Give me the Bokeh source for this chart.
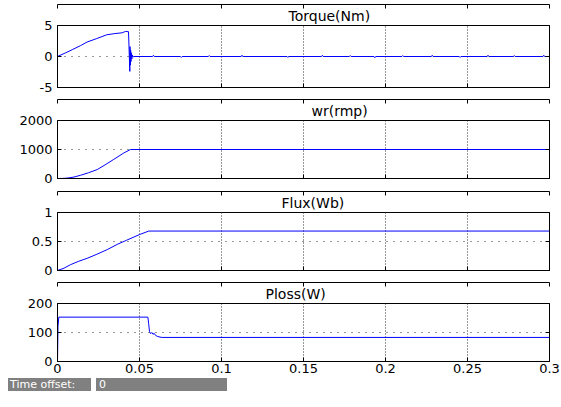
from bokeh.plotting import figure
from bokeh.layouts import column
from bokeh.models import (Range1d, FixedTicker, LinearAxis, Div, Title, Grid,
                          CustomLabelingPolicy)
from bokeh.embed import file_html
from bokeh.resources import INLINE

# ---------------- data ----------------
x_ticks = [0, 0.05, 0.1, 0.15, 0.2, 0.25, 0.3]
x_tick_labels = ["0", "0.05", "0.1", "0.15", "0.2", "0.25", "0.3"]

titles = ["Torque(Nm)", "wr(rmp)", "Flux(Wb)", "Ploss(W)"]

torque_t = [0, 0.005, 0.009, 0.014, 0.018, 0.024, 0.030, 0.035, 0.0394, 0.0414, 0.0433,
            0.0441, 0.0442, 0.0444, 0.0446, 0.0448, 0.0450, 0.0453, 0.0456, 0.0460, 0.0465,
            0.058, 0.0585, 0.059, 0.075, 0.0755, 0.076, 0.092, 0.0925, 0.093, 0.112, 0.1125,
            0.113, 0.140, 0.1405, 0.141, 0.161, 0.1615, 0.162, 0.178, 0.1785, 0.179, 0.193,
            0.1935, 0.194, 0.210, 0.2105, 0.211, 0.228, 0.2285, 0.229, 0.245, 0.2455, 0.246,
            0.262, 0.2625, 0.263, 0.278, 0.2785, 0.279, 0.296, 0.2965, 0.297, 0.3]
torque_v = [0, 0.6, 1.1, 1.75, 2.33, 2.9, 3.5, 3.7, 3.82, 4.04, 4.0,
            -2.4, 1.6, -1.4, 1.0, -0.8, 0.6, -0.4, 0.25, -0.1, 0.0,
            0.0, 0.2, 0.0, 0.0, -0.15, 0.0, 0.0, 0.15, 0.0, 0.0, 0.2,
            0.0, 0.0, -0.15, 0.0, 0.0, 0.2, 0.0, 0.0, 0.15, 0.0, 0.0,
            -0.2, 0.0, 0.0, 0.15, 0.0, 0.0, 0.2, 0.0, 0.0, -0.15, 0.0,
            0.0, 0.2, 0.0, 0.0, 0.15, 0.0, 0.0, 0.2, 0.0, 0.0]

wr_t = [0, 0.004, 0.0069, 0.010, 0.014, 0.019, 0.0242, 0.029, 0.0343, 0.0404, 0.0445, 0.3]
wr_v = [0, 5, 20, 50, 110, 200, 308, 470, 659, 879, 1000, 1000]

flux_t = [0, 0.004, 0.0079, 0.013, 0.0181, 0.024, 0.0303, 0.0364, 0.0420, 0.050, 0.0557, 0.3]
flux_v = [0, 0.04, 0.10, 0.16, 0.21, 0.28, 0.36, 0.45, 0.52, 0.62, 0.68, 0.68]

ploss_t = [0, 0.0003, 0.0008, 0.0551, 0.0556, 0.0561, 0.0568, 0.0575, 0.0582, 0.059, 0.0598,
           0.0608, 0.0625, 0.0638, 0.3]
ploss_v = [0, 120, 153, 153, 130, 103, 96, 100, 94, 97, 90, 87, 84, 83, 83]

y_ranges = [(-5, 5), (0, 2000), (0, 1), (0, 200)]
y_ticks = [[-5, 0, 5], [0, 1000, 2000], [0, 0.5, 1], [0, 100, 200]]
y_tick_labels = [["-5", "0", "5"], ["0", "1000", "2000"], ["0", "0.5", "1"], ["0", "100", "200"]]

series = [(torque_t, torque_v), (wr_t, wr_v), (flux_t, flux_v), (ploss_t, ploss_v)]

# ---------------- layout ----------------
heights = [95, 92, 91, 100]
tops = [25, 23, 22, 23]
bottoms = [8, 9, 8, 17]
title_offsets = [231, 254, 224, 208]

FONT = "DejaVu Sans"

NO_LABELS = """
try {
  for (const i of Array.from(indices.ones())) { indices.unset(i) }
} catch (e) {
  try {
    for (const i of Array.from(indices.ones())) { indices.set(i, false) }
  } catch (e2) {}
}
return indices
"""


def make_axis(ticker, overrides, show_labels, standoff):
    ax = LinearAxis(ticker=ticker)
    ax.major_label_overrides = overrides
    ax.major_tick_in = 4
    ax.major_tick_out = 0
    ax.minor_tick_in = 0
    ax.minor_tick_out = 0
    ax.axis_line_color = "black"
    ax.major_tick_line_color = "black"
    ax.major_label_text_font = FONT
    ax.major_label_text_color = "black"
    if show_labels:
        ax.major_label_text_font_size = "13px"
        ax.major_label_standoff = standoff
    else:
        ax.major_label_text_font_size = "1px"
        ax.major_label_standoff = 0
        ax.major_label_policy = CustomLabelingPolicy(code=NO_LABELS)
    return ax


figs = []
for i in range(4):
    p = figure(width=561, height=heights[i], output_backend="svg", toolbar_location=None,
               x_range=Range1d(0, 0.3), y_range=Range1d(*y_ranges[i]),
               min_border_left=57, min_border_right=12,
               min_border_top=tops[i], min_border_bottom=bottoms[i],
               x_axis_type=None, y_axis_type=None)
    p.background_fill_color = "white"
    p.border_fill_color = "white"
    p.outline_line_color = "black"
    p.outline_line_width = 1

    t = Title(text=titles[i], align="left", offset=title_offsets[i], standoff=3,
              text_font=FONT, text_font_size="14px", text_font_style="normal",
              text_color="black")
    p.add_layout(t, "above")

    xt = FixedTicker(ticks=x_ticks)
    yt = FixedTicker(ticks=y_ticks[i])
    xlab = dict(zip(x_ticks, x_tick_labels))
    ylab = dict(zip(y_ticks[i], y_tick_labels[i]))

    p.add_layout(make_axis(xt, xlab, i == 3, 2), "below")
    p.add_layout(make_axis(xt, xlab, False, 0), "above")
    p.add_layout(make_axis(yt, ylab, True, 5), "left")
    p.add_layout(make_axis(yt, ylab, False, 0), "right")

    gx = Grid(dimension=0, ticker=xt, grid_line_color="#303030", grid_line_dash="1 2")
    gy = Grid(dimension=1, ticker=yt, grid_line_color="#303030", grid_line_dash="1 6")
    p.add_layout(gx)
    p.add_layout(gy)

    tt, vv = series[i]
    p.line(tt, vv, line_color="#0000ff", line_width=1)
    figs.append(p)

bar = Div(text=(
    "<div style=\"position:relative;width:561px;height:29px;font-family:'DejaVu Sans';"
    "font-size:11px;color:white;\">"
    "<div style=\"position:absolute;left:8px;top:0px;width:83px;height:13px;background:#808080;"
    "line-height:13px;padding-left:2px;\">Time offset:</div>"
    "<div style=\"position:absolute;left:96px;top:0px;width:131px;height:13px;background:#808080;"
    "line-height:13px;padding-left:3px;\">0</div></div>"),
    width=561, height=29, margin=0)

layout = column(*figs, bar, spacing=0)
open("out.html", "w").write(file_html(layout, INLINE))
